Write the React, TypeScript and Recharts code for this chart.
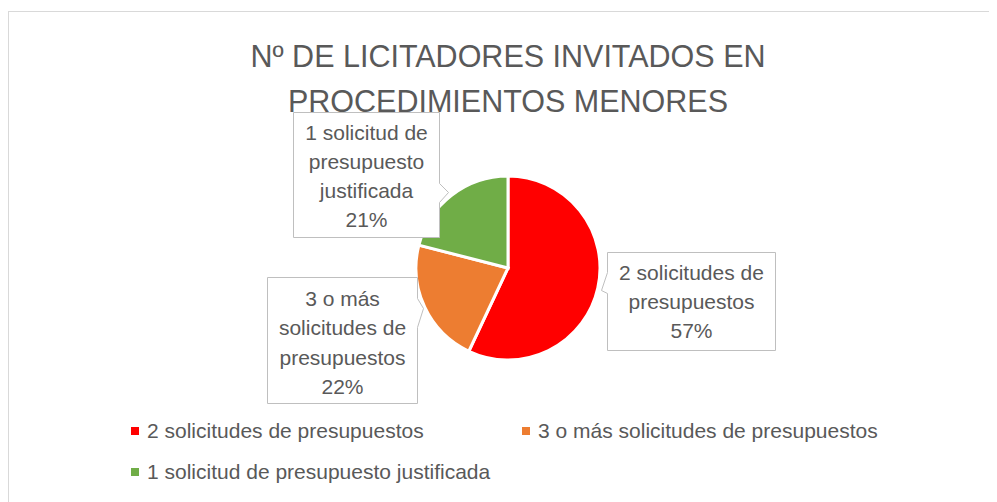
import React from "react";
import { PieChart, Pie, Cell, Legend } from "recharts";

const categories = [
  "2 solicitudes de presupuestos",
  "3 o más solicitudes de presupuestos",
  "1 solicitud de presupuesto justificada",
];
const values = [57, 22, 21];
const colors = ["#FF0000", "#ED7D31", "#70AD47"];
const labelLines = [
  ["2 solicitudes de", "presupuestos"],
  ["3 o más", "solicitudes de", "presupuestos"],
  ["1 solicitud de", "presupuesto", "justificada"],
];
const titleLines = ["Nº DE LICITADORES INVITADOS EN", "PROCEDIMIENTOS MENORES"];

const data = categories.map((name, i) => ({ name, value: values[i] }));

const FONT = "'Liberation Sans', Arial, sans-serif";
const TEXT = "#595959";
const W = 989;
const H = 494;
const CX = 500;
const CY = 260;
const R = 92;

// label callout boxes: offsets from pie centre (styling/layout only)
const boxes = [
  { dx: 99, dy: -16, w: 168, h: 98, side: "left", p0: 20, tipX: -6, tipY: 38, p1: 41, shift: 0 },
  { dx: -241, dy: 9, w: 150, h: 126, side: "right", p0: 21, tipX: 6, tipY: 31, p1: 50, shift: 2 },
  { dx: -215, dy: -156, w: 146, h: 125, side: "right", p0: 71, tipX: 9, tipY: 80, p1: 90, shift: 1 },
];

function boxPath(x: number, y: number, b: any) {
  const { w, h, side, p0, tipX, tipY, p1 } = b;
  if (side === "left") {
    return `M${x},${y} L${x + w},${y} L${x + w},${y + h} L${x},${y + h} L${x},${y + p1} L${x + tipX},${y + tipY} L${x},${y + p0} Z`;
  }
  return `M${x},${y} L${x + w},${y} L${x + w},${y + p0} L${x + w + tipX},${y + tipY} L${x + w},${y + p1} L${x + w},${y + h} L${x},${y + h} Z`;
}

const renderLabel = (props: any) => {
  const { cx, cy, index, percent } = props;
  const b = boxes[index];
  const x = cx + b.dx + 0.5;
  const y = cy + b.dy + 0.5;
  const lines = [...labelLines[index], `${Math.round(percent * 100)}%`];
  const n = lines.length;
  const lh = 29.3;
  return (
    <g key={`lbl-${index}`}>
      <path d={boxPath(x, y, b)} fill="#FFFFFF" stroke="#BFBFBF" strokeWidth={1} />
      {lines.map((t, i) => (
        <text
          key={i}
          x={x + b.w / 2}
          y={y + b.h / 2 + (i - (n - 1) / 2) * lh + b.shift}
          textAnchor="middle"
          dominantBaseline="central"
          fontFamily={FONT}
          fontSize={21}
          fill={TEXT}
        >
          {t}
        </text>
      ))}
    </g>
  );
};

const legendPos = [
  { x: 123, y: 423 },
  { x: 514, y: 423 },
  { x: 123, y: 464 },
];

const renderLegend = () => (
  <div style={{ position: "relative", width: W, height: H }}>
    {categories.map((c, i) => (
      <div
        key={c}
        style={{
          position: "absolute",
          left: legendPos[i].x,
          top: legendPos[i].y - 15,
          height: 30,
          display: "flex",
          alignItems: "center",
          whiteSpace: "nowrap",
          fontFamily: FONT,
          fontSize: 21,
          color: TEXT,
        }}
      >
        <span style={{ display: "inline-block", width: 8, height: 8, background: colors[i], marginRight: 8 }} />
        <span>{c}</span>
      </div>
    ))}
  </div>
);

export default function App() {
  return (
    <div style={{ position: "relative", width: W, height: H, overflow: "hidden", background: "#fff" }}>
      <div
        style={{
          position: "absolute",
          left: 0,
          top: 3,
          width: 1200,
          height: 800,
          border: "1px solid #D9D9D9",
          boxSizing: "border-box",
        }}
      />
      <div
        style={{
          position: "absolute",
          left: 0,
          top: 26,
          width: 1000,
          textAlign: "center",
          fontFamily: FONT,
          fontSize: 30.5,
          lineHeight: "45px",
          color: TEXT,
          whiteSpace: "nowrap",
        }}
      >
        {titleLines.map((t) => (
          <div key={t}>{t}</div>
        ))}
      </div>
      <div style={{ position: "absolute", left: 0, top: 0 }}>
        <PieChart width={W} height={H} margin={{ top: 0, right: 0, bottom: 0, left: 0 }}>
          <Pie
            data={data}
            dataKey="value"
            nameKey="name"
            cx={CX}
            cy={CY}
            outerRadius={R}
            startAngle={90}
            endAngle={-270}
            stroke="#FFFFFF"
            strokeWidth={3}
            label={renderLabel}
            labelLine={false}
            isAnimationActive={false}
          >
            {data.map((d, i) => (
              <Cell key={d.name} fill={colors[i]} />
            ))}
          </Pie>
          <Legend
            content={renderLegend}
            wrapperStyle={{ position: "absolute", left: 0, top: 0, width: W, height: H }}
          />
        </PieChart>
      </div>
    </div>
  );
}
